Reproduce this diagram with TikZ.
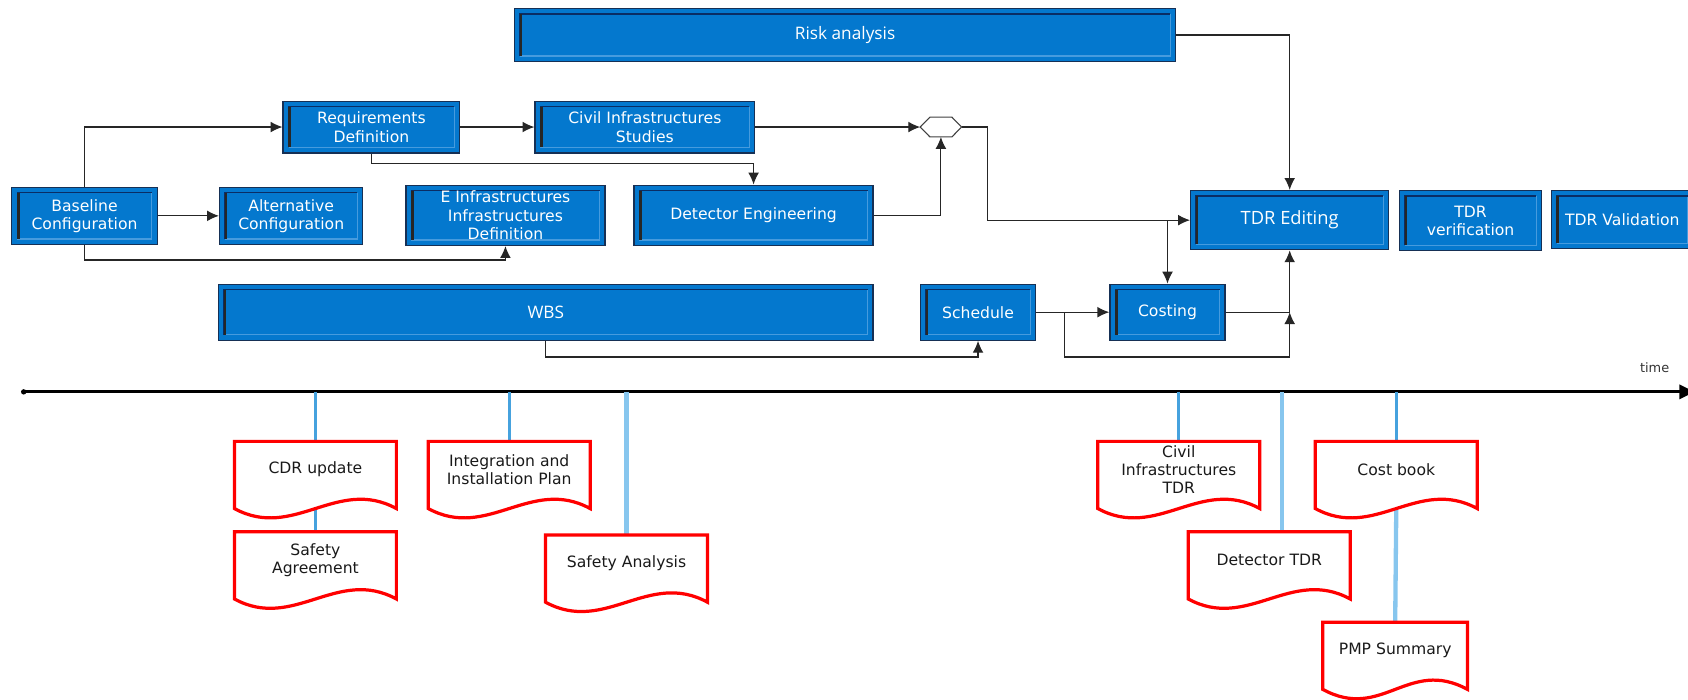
\documentclass[tikz,border=0pt]{standalone}
\usepackage{fontspec}
\setmainfont{DejaVu Sans}
\newfontfamily\riskfont{Open Sans}
\usetikzlibrary{arrows.meta}
\definecolor{boxblue}{RGB}{4,120,206}
\definecolor{boxedge}{RGB}{22,48,85}
\definecolor{boxlight}{RGB}{70,155,222}
\definecolor{boxdark}{RGB}{10,45,100}
\definecolor{docred}{RGB}{255,0,0}
\definecolor{tickblue}{RGB}{70,162,222}
\definecolor{ticklight}{RGB}{135,198,238}
\definecolor{doctext}{RGB}{25,25,25}
\newcommand\docoutline[1]{\draw[docline] (#1.north west) -- (#1.north east) -- ([yshift=-10pt]#1.south east) .. controls +(-55pt,30pt) and +(55pt,-30pt) .. ([yshift=-10pt]#1.south west) -- cycle;}
\begin{document}
\begin{tikzpicture}[x=1pt,y=-1pt,
  bbox/.style n args={2}{rectangle, draw=boxedge, line width=1.2pt, fill=boxblue, text=white,
    align=center, inner sep=0pt, minimum width=#1pt, minimum height=#2pt,
    font=\fontsize{14.5}{17}\selectfont,
    path picture={
      \coordinate (ppNW) at ([shift={(5pt,-5pt)}]path picture bounding box.north west);
      \coordinate (ppSE) at ([shift={(-5pt,5pt)}]path picture bounding box.south east);
      \draw[boxlight, line width=1.2pt] (ppNW -| ppSE) -- (ppSE) -- (ppNW |- ppSE);
      \draw[boxdark, line width=1.2pt] (ppNW |- ppSE) -- (ppNW) -- (ppNW -| ppSE);
      \draw[black!85, line width=2.5pt] ([xshift=1pt]ppNW) -- ([xshift=1pt]ppNW |- ppSE);
    }},
  docbox/.style={rectangle, inner sep=0pt, minimum width=150pt, minimum height=52pt, anchor=north,
    align=center, text=doctext, font=\fontsize{14.5}{17}\selectfont},
  docline/.style={draw=docred, line width=3pt, line join=miter},
  arr/.style={draw=black!85, line width=1.1pt, -{Latex[length=11pt,width=10pt]}},
  tick/.style={draw=tickblue, line width=2.5pt},
  tickl/.style={draw=ticklight, line width=4pt}
]
\useasboundingbox (0,0) rectangle (1568,650);
\clip (0,0) rectangle (1568,650);

% blue process boxes
\node[bbox={614}{49}, font=\riskfont\fontsize{16}{18}\selectfont] (risk) at (785,32.5) {Risk analysis};
\node[bbox={164}{48}] (req) at (345,118) {Requirements\\Definition};
\node[bbox={204}{48}] (civ) at (599,118) {Civil Infrastructures\\Studies};
\node[bbox={135}{53}] (base) at (78.5,200.5) {Baseline\\Configuration};
\node[bbox={133}{53}] (alt) at (270.5,200.5) {Alternative\\Configuration};
\node[bbox={185}{56}] (einf) at (469.5,200) {E Infrastructures\\Infrastructures\\Definition};
\node[bbox={222}{56}] (det) at (700,200) {Detector Engineering};
\node[bbox={184}{55}, font=\riskfont\fontsize{17}{19}\selectfont] (tdre) at (1198,204.5) {TDR Editing};
\node[bbox={132}{56}] (tdrv) at (1366,205) {TDR\\verification};
\node[bbox={132}{54}] (tdrval) at (1507,204) {TDR Validation};
\node[bbox={608}{52}, font=\riskfont\fontsize{16}{18}\selectfont] (wbs) at (507,290) {WBS};
\node[bbox={107}{52}] (sched) at (908.5,290) {Schedule};
\node[bbox={107}{52}] (costing) at (1084.5,290) {Costing};

% hexagon junction
\node[rectangle, inner sep=0pt, minimum width=38pt, minimum height=18pt] (hex) at (874,118) {};
\draw[draw=black!75, fill=white, line width=1pt] (hex.west) -- ([xshift=9pt]hex.north west) -- ([xshift=-9pt]hex.north east) -- (hex.east) -- ([xshift=-9pt]hex.south east) -- ([xshift=9pt]hex.south west) -- cycle;

% connectors
\draw[arr] (base.north) |- (req.west);
\draw[arr] (base.east) -- (alt.west);
\draw[arr] (base.south) -- ++(0,14) -| (einf.south);
\draw[arr] (req.east) -- (civ.west);
\draw[arr] (req.south) -- ++(0,9) -| (det.north);
\draw[arr] (civ.east) -- (hex.west);
\draw[arr] (det.east) -| (hex.south);
\draw[arr] (hex.east) -- ++(24,0) |- (tdre.west);
\draw[arr] (costing.north |- tdre.west) -- (costing.north);
\draw[arr] (risk.east) -| (tdre.north);
\draw[arr] (costing.east) -| (tdre.south);
\draw[arr] (sched.east) -- (costing.west);
\coordinate (byp) at ([yshift=-15pt]sched.south -| tdre.south);
\draw[arr] (sched.east) -- ++(26,0) |- (byp) -- (costing.east -| tdre.south);
\draw[arr] (wbs.south) -- ++(0,15) -| (sched.south);

% timeline
\coordinate (tl0) at (22,364);
\coordinate (tl1) at (1574,364);
\draw[line width=3pt, -{Triangle[length=14pt,width=13pt]}] (tl0) -- (tl1);
\fill (tl0) circle (2.5pt);
\node[font=\fontsize{12}{14}\selectfont, text=black!80] (timelbl) at (1537,342) {time};

% documents
\node[docbox] (cdr) at (293,410) {CDR update};
\node[docbox] (sagr) at (293,494) {Safety\\Agreement};
\node[docbox] (integ) at (473,410) {Integration and\\Installation Plan};
\node[docbox] (sana) at (582,497) {Safety Analysis};
\node[docbox] (civtdr) at (1095,410) {Civil\\Infrastructures\\TDR};
\node[docbox] (dettdr) at (1179,494) {Detector TDR};
\node[docbox] (cost) at (1297,410) {Cost book};
\node[docbox, minimum width=134pt] (pmp) at (1296,578) {PMP Summary};

\coordinate (dtt) at ([xshift=12pt]dettdr.north);
\draw[tick] (cdr.north |- tl0) -- (cdr.north);
\draw[tick] ([yshift=-10pt]cdr.south) -- (sagr.north);
\draw[tick] (integ.north |- tl0) -- (integ.north);
\draw[tickl] (sana.north |- tl0) -- (sana.north);
\draw[tick] (civtdr.north |- tl0) -- (civtdr.north);
\draw[tickl] (dtt |- tl0) -- (dtt);
\draw[tick] (cost.north |- tl0) -- (cost.north);
\draw[tickl] ([yshift=-10pt]cost.south) -- (pmp.north);

\docoutline{cdr}
\docoutline{sagr}
\docoutline{integ}
\docoutline{sana}
\docoutline{civtdr}
\docoutline{dettdr}
\docoutline{cost}
\docoutline{pmp}
\end{tikzpicture}
\end{document}
